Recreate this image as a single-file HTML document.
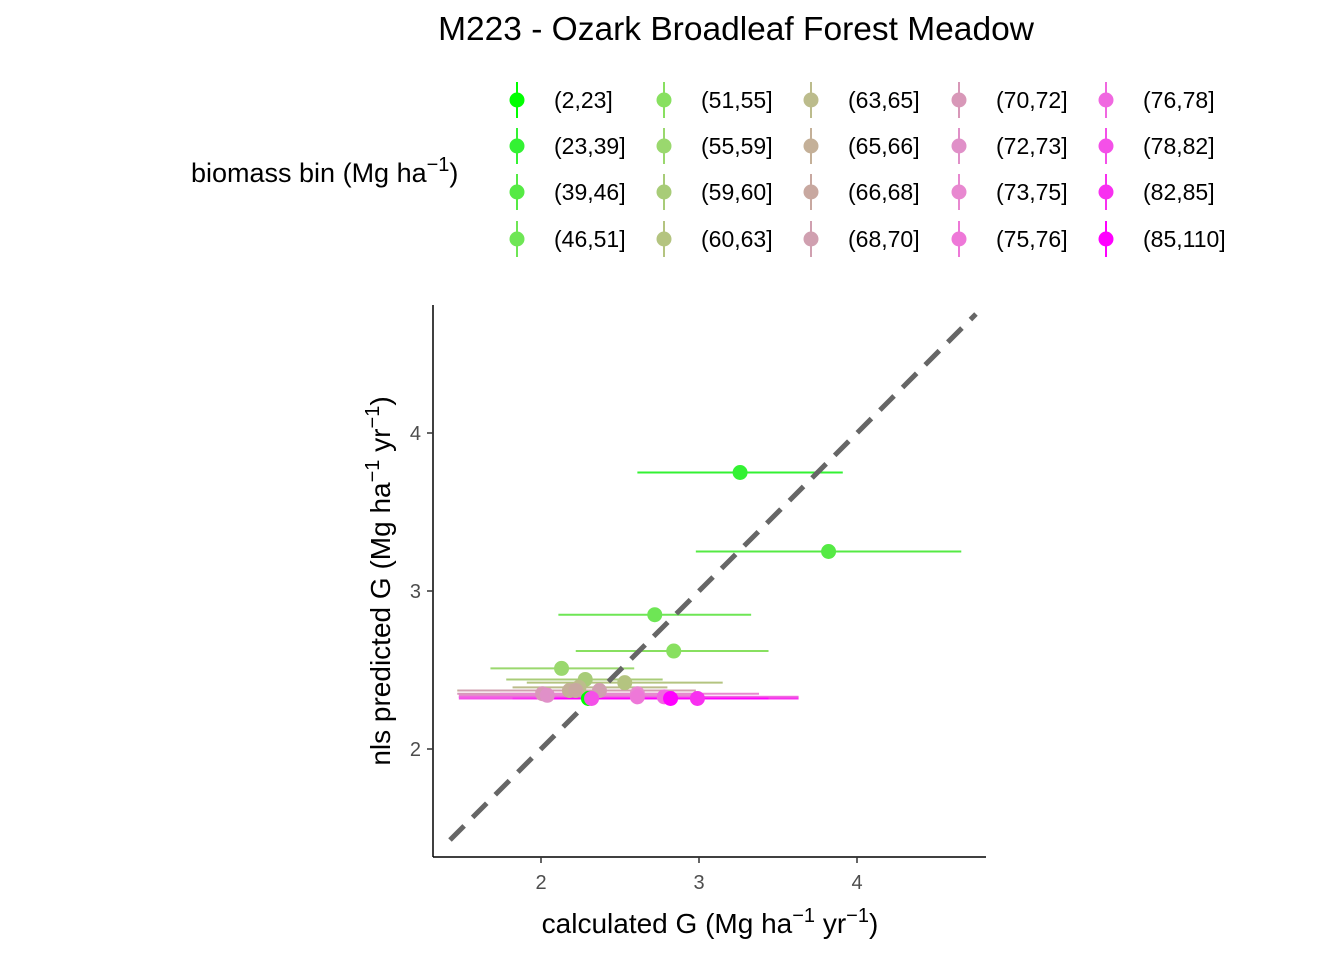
<!DOCTYPE html>
<html><head><meta charset="utf-8"><style>
body{margin:0;background:#fff}
svg{font-family:"Liberation Sans",sans-serif}
</style></head><body>
<svg id="c" width="1344" height="960" viewBox="0 0 1344 960" xmlns="http://www.w3.org/2000/svg">
<text x="736" y="40" font-size="33.5" text-anchor="middle" fill="#000">M223 - Ozark Broadleaf Forest Meadow</text>
<text x="191" y="182" font-size="27" fill="#000">biomass bin (Mg ha<tspan dy="-11" font-size="20">−1</tspan><tspan dy="11">)</tspan></text>
<g id="legend"></g>
<g id="plot"></g>
<text x="710" y="933" font-size="28" text-anchor="middle">calculated G (Mg ha<tspan dy="-11" font-size="20">−1</tspan><tspan dy="11"> yr</tspan><tspan dy="-11" font-size="20">−1</tspan><tspan dy="11">)</tspan></text>
<text transform="translate(390,581) rotate(-90)" font-size="28" text-anchor="middle">nls predicted G (Mg ha<tspan dy="-11" font-size="20">−1</tspan><tspan dy="11"> yr</tspan><tspan dy="-11" font-size="20">−1</tspan><tspan dy="11">)</tspan></text>
</svg>
<script>
const bins=["(2,23]","(23,39]","(39,46]","(46,51]","(51,55]","(55,59]","(59,60]","(60,63]","(63,65]","(65,66]","(66,68]","(68,70]","(70,72]","(72,73]","(73,75]","(75,76]","(76,78]","(78,82]","(82,85]","(85,110]"];
const colors=["#00FF00","#33F233","#55EA44","#6EE655","#88E060","#9AD86E","#A8CC78","#B4C480","#BCBC8C","#C4B098","#C8A8A0","#D0A0B0","#D898B8","#E090C8","#E888D0","#EE78D8","#F068E0","#F450E8","#F830F0","#FF00FF"];
const calcG=[2.30,3.26,3.82,2.72,2.84,2.13,2.28,2.53,2.24,2.18,2.22,2.37,2.01,2.04,2.61,2.61,2.78,2.32,2.99,2.82];
const predG=[2.32,3.75,3.25,2.85,2.62,2.51,2.44,2.42,2.39,2.37,2.37,2.37,2.35,2.34,2.35,2.33,2.33,2.32,2.32,2.32];
const xLo=[1.76,2.61,2.98,2.11,2.22,1.68,1.78,1.91,1.82,1.47,1.50,1.48,1.47,1.48,1.74,1.48,1.48,1.48,1.82,2.00];
const xHi=[2.50,3.91,4.66,3.33,3.44,2.59,2.77,3.15,2.80,2.97,2.97,2.98,2.99,3.00,3.38,3.63,3.63,3.63,3.63,3.44];
const ticks=[2,3,4];
const X=v=>541+(v-2)*158, Y=v=>749-(v-2)*158;
const NS="http://www.w3.org/2000/svg";
function mk(t,a,p){const e=document.createElementNS(NS,t);for(const k in a)e.setAttribute(k,a[k]);p.appendChild(e);return e;}
const plot=document.getElementById('plot'),leg=document.getElementById('legend');
let ax=mk('line',{x1:433,y1:305,x2:433,y2:857,stroke:'#000','stroke-width':1.5},plot);


ax=mk('line',{x1:433,y1:857,x2:986,y2:857,stroke:'#000','stroke-width':1.5},plot);


ticks.forEach(t=>{
  let l=mk('line',{x1:X(t),y1:857,x2:X(t),y2:863,stroke:'#333','stroke-width':1.5},plot);
  
  
  let tx=mk('text',{x:X(t),y:889,'font-size':20,fill:'#4d4d4d','text-anchor':'middle'},plot);tx.textContent=t;
  
  
  l=mk('line',{x1:427,y1:Y(t),x2:433,y2:Y(t),stroke:'#333','stroke-width':1.5},plot);
  
  
  tx=mk('text',{x:421,y:Y(t)+7,'font-size':20,fill:'#4d4d4d','text-anchor':'end'},plot);tx.textContent=t;
  
  
});
bins.forEach((b,i)=>{
  const l=mk('line',{x1:X(xLo[i]),x2:X(xHi[i]),y1:Y(predG[i]),y2:Y(predG[i]),stroke:colors[i],'stroke-width':2},plot);
  
  
});
const d=mk('line',{x1:X(1.424),y1:Y(1.424),x2:X(4.753),y2:Y(4.753),stroke:'#666','stroke-width':5,'stroke-dasharray':'20 12'},plot);


bins.forEach((b,i)=>{
  const c=mk('circle',{cx:X(calcG[i]),cy:Y(predG[i]),r:7.5,fill:colors[i]},plot);
  
  
});
const colX=[517,664,811,959,1106],rowY=[100,146,192,239];
bins.forEach((b,i)=>{
  const cx=colX[Math.floor(i/4)],cy=rowY[i%4];
  const g=mk('g',{},leg);
  
  
  mk('line',{x1:cx,x2:cx,y1:cy-18,y2:cy+18,stroke:colors[i],'stroke-width':2},g);
  mk('circle',{cx:cx,cy:cy,r:7.5,fill:colors[i]},g);
  const t=mk('text',{x:cx+37,y:cy+8,'font-size':23,fill:'#000'},g);t.textContent=b;
});
</script>
</body></html>
